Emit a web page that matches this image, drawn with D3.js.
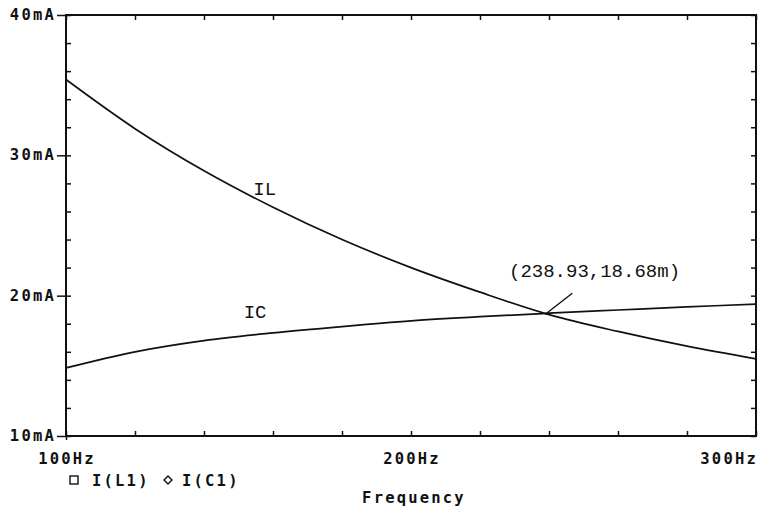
<!DOCTYPE html>
<html>
<head>
<meta charset="utf-8">
<script src="https://cdn.jsdelivr.net/npm/d3@7"></script>
<style>
  body { margin: 0; background: #fff; }
  svg { display: block; }
  .lbl { font-family: 'DejaVu Sans Mono', monospace; font-weight: bold; font-size: 15.5px; letter-spacing: 2.2px; fill: #111; }
  .note { font-family: 'Liberation Mono', monospace; font-size: 19px; fill: #111; }
</style>
</head>
<body>
<div id="chart"></div>
<script>
// frequency in Hz, currents in mA
const freq = [100, 120, 140, 160, 180, 200, 220, 240, 260, 280, 300]
const iL = [35.4, 31.9, 28.9, 26.3, 24.0, 22.0, 20.25, 18.65, 17.45, 16.4, 15.5]
const iC = [14.85, 16.0, 16.8, 17.35, 17.8, 18.2, 18.5, 18.75, 18.98, 19.2, 19.4]

const yTicks = [10, 20, 30, 40]
const yTickLabels = ['10mA', '20mA', '30mA', '40mA']
const xTicks = [100, 200, 300]
const xTickLabels = ['100Hz', '200Hz', '300Hz']

const cursor = [238.93, 18.68]
const cursorText = '(238.93,18.68m)'

const [width, height] = [764, 512]
const m = { left: 66, right: 8, top: 15, bottom: 76 }

const svg = d3.select('#chart').append('svg')
    .attr('width', width)
    .attr('height', height)

const x = d3.scaleLinear().domain([100, 300]).range([m.left, width - m.right])
const y = d3.scaleLinear().domain([10, 40]).range([height - m.bottom, m.top])

const minorX = d3.range(100, 301, 20)
const minorY = d3.range(10, 41, 2)

// frame
svg.append('rect')
    .attr('x', x(100)).attr('y', y(40))
    .attr('width', x(300) - x(100)).attr('height', y(10) - y(40))
    .attr('fill', 'none').attr('stroke', '#111').attr('stroke-width', 2)

const tickStyle = g => {
    g.select('.domain').remove()
    g.selectAll('line').attr('stroke', '#111').attr('stroke-width', 1.5)
    g.selectAll('text').remove()
}

// inward minor ticks on all four sides
svg.append('g').attr('transform', `translate(0,${y(10)})`)
    .call(d3.axisBottom(x).tickValues(minorX).tickSize(-5)).call(tickStyle)
svg.append('g').attr('transform', `translate(0,${y(40)})`)
    .call(d3.axisTop(x).tickValues(minorX).tickSize(-5)).call(tickStyle)
svg.append('g').attr('transform', `translate(${x(100)},0)`)
    .call(d3.axisLeft(y).tickValues(minorY).tickSize(-5)).call(tickStyle)
svg.append('g').attr('transform', `translate(${x(300)},0)`)
    .call(d3.axisRight(y).tickValues(minorY).tickSize(-5)).call(tickStyle)

// outward major ticks on the left
svg.append('g').attr('transform', `translate(${x(100)},0)`)
    .call(d3.axisLeft(y).tickValues(yTicks).tickSize(9)).call(tickStyle)
svg.append('g').attr('transform', `translate(0,${y(10)})`)
    .call(d3.axisBottom(x).tickValues([100]).tickSize(4)).call(tickStyle)

// tick labels
svg.selectAll('.ylab')
    .data(yTicks)
    .join('text')
    .attr('class', 'lbl')
    .attr('x', 56)
    .attr('y', d => y(d) + 5)
    .attr('text-anchor', 'end')
    .text((d, i) => yTickLabels[i])

svg.selectAll('.xlab')
    .data(xTicks)
    .join('text')
    .attr('class', 'lbl')
    .attr('x', (d, i) => i === 2 ? x(d) + 2 : x(d) + 1)
    .attr('y', 464)
    .attr('text-anchor', (d, i) => i === 2 ? 'end' : 'middle')
    .text((d, i) => xTickLabels[i])

// curves
const line = d3.line()
    .x((d, i) => x(freq[i]))
    .y(d => y(d))
    .curve(d3.curveCatmullRom)

svg.append('path').datum(iL)
    .attr('d', line)
    .attr('fill', 'none').attr('stroke', '#111').attr('stroke-width', 1.7)

svg.append('path').datum(iC)
    .attr('d', line)
    .attr('fill', 'none').attr('stroke', '#111').attr('stroke-width', 1.7)

// curve labels
svg.append('text').attr('class', 'note')
    .attr('x', x(154.3)).attr('y', y(27.2)).text('IL')
svg.append('text').attr('class', 'note')
    .attr('x', x(151.5)).attr('y', y(18.4)).text('IC')

// cursor annotation
svg.append('line')
    .attr('x1', x(cursor[0])).attr('y1', y(cursor[1]))
    .attr('x2', x(cursor[0]) + 27).attr('y2', y(cursor[1]) - 21)
    .attr('stroke', '#111').attr('stroke-width', 1.4)
svg.append('text').attr('class', 'note')
    .attr('x', 509).attr('y', 277)
    .text(cursorText)

// legend: trace markers + names
const legend = svg.append('g').attr('transform', 'translate(70,480)')
legend.append('rect')
    .attr('x', 0).attr('y', -4).attr('width', 8).attr('height', 8)
    .attr('fill', 'none').attr('stroke', '#111').attr('stroke-width', 1.4)
legend.append('text').attr('class', 'lbl')
    .attr('x', 22).attr('y', 6).text('I(L1)')
legend.append('path')
    .attr('d', 'M 98 -4 L 102 0 L 98 4 L 94 0 Z')
    .attr('fill', 'none').attr('stroke', '#111').attr('stroke-width', 1.4)
legend.append('text').attr('class', 'lbl')
    .attr('x', 112).attr('y', 6).text('I(C1)')

svg.append('text').attr('class', 'lbl')
    .attr('x', 414).attr('y', 503)
    .attr('text-anchor', 'middle')
    .text('Frequency')
</script>
</body>
</html>
